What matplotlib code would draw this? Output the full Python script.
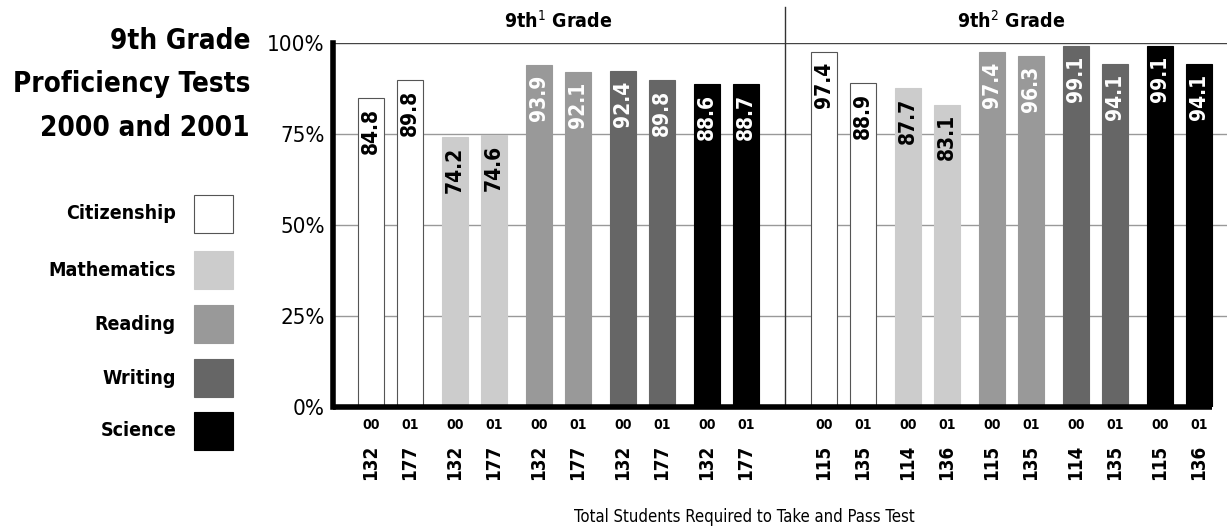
import matplotlib
matplotlib.use("Agg")
from matplotlib import pyplot as plt
from matplotlib.patches import Rectangle

plt.rcParams["font.family"] = ["Liberation Sans Narrow", "DejaVu Sans"]
plt.rcParams["font.stretch"] = "condensed"

subjects = ["Citizenship", "Mathematics", "Reading", "Writing", "Science"]
colors = ["#ffffff", "#cccccc", "#999999", "#666666", "#000000"]
text_colors = ["black", "black", "white", "white", "white"]
groups = ["9th$^{1}$ Grade", "9th$^{2}$ Grade"]
years = ["00", "01"]

# percent passing, [subject][year]
grade1_pct = [[84.8, 89.8], [74.2, 74.6], [93.9, 92.1], [92.4, 89.8], [88.6, 88.7]]
grade2_pct = [[97.4, 88.9], [87.7, 83.1], [97.4, 96.3], [99.1, 94.1], [99.1, 94.1]]
# students required to take and pass test
grade1_n = [[132, 177], [132, 177], [132, 177], [132, 177], [132, 177]]
grade2_n = [[115, 135], [114, 136], [115, 135], [114, 135], [115, 136]]

yticks = [0, 25, 50, 75, 100]

W, H = 1227, 527
fig = plt.figure(figsize=(W / 100, H / 100), dpi=100)
ax = fig.add_axes([333 / W, 1 - 407 / H, (W - 333) / W, 364 / H])

step = 39.0
pair = 84 / step
grp = 453 / step
bw = 26 / step

ax.set_xlim(-38 / step, (W - 371) / step)
ax.set_ylim(0, 100)

for t in yticks[1:]:
    ax.axhline(t, color="#444444" if t == 100 else "#999999", lw=1, zorder=0)
div = (785 - 371) / step
ax.plot([div, div], [0, 110], color="#333333", lw=1, clip_on=False, zorder=0)

for s in ["top", "right", "bottom"]:
    ax.spines[s].set_visible(False)
ax.spines["left"].set_linewidth(4)
ax.plot([-38 / step, (1212 - 371) / step], [0, 0], color="black", lw=4,
        solid_capstyle="butt", clip_on=False, zorder=5)

data = [(grade1_pct, grade1_n), (grade2_pct, grade2_n)]
for g, (pct, nums) in enumerate(data):
    for s in range(5):
        for j in range(2):
            x = g * grp + s * pair + j
            v = pct[s][j]
            ax.bar(x, v, width=bw, color=colors[s],
                   edgecolor="#555555" if s == 0 else colors[s], lw=0.8, zorder=2)
            ax.annotate(f"{v:.1f}", (x, v), xytext=(0, -7), textcoords="offset points",
                        rotation=90, ha="center", va="top", fontsize=15,
                        fontweight="bold", color=text_colors[s], zorder=3)
            ax.annotate(years[j], (x, 0), xytext=(0, -8), textcoords="offset points",
                        ha="center", va="top", fontsize=10, fontweight="bold",
                        annotation_clip=False)
            ax.annotate(str(nums[s][j]), (x, 0), xytext=(0, -27), textcoords="offset points",
                        rotation=90, ha="center", va="top", fontsize=13.5,
                        fontweight="bold", annotation_clip=False)
    cx = g * grp + 2 * pair + 0.5
    ax.text(cx, 106, groups[g], ha="center", va="center", fontsize=14,
            fontweight="bold", clip_on=False)

ax.set_xticks([])
ax.set_yticks(yticks)
ax.set_yticklabels([f"{t}%" for t in yticks], fontsize=16)
ax.tick_params(axis="y", length=0, pad=6)

title_lines = ["9th Grade", "Proficiency Tests", "2000 and 2001"]
title_y = [41, 84, 128]
for line, ty in zip(title_lines, title_y):
    fig.text(250 / W, 1 - ty / H, line, ha="right", va="center", fontsize=20, fontweight="bold")

legend_y = [214, 270, 324, 378, 431]
for s in range(5):
    fig.patches.append(Rectangle((194 / W, 1 - (legend_y[s] + 19) / H), 39 / W, 38 / H,
                                 transform=fig.transFigure, facecolor=colors[s],
                                 edgecolor="#555555" if s == 0 else colors[s], lw=0.8))
    fig.text(176 / W, 1 - legend_y[s] / H, subjects[s], ha="right", va="center",
             fontsize=14, fontweight="bold")

fig.text(744 / W, 1 - 517 / H, "Total Students Required to Take and Pass Test",
         ha="center", va="center", fontsize=12)

fig.savefig("out.png", dpi=100)
